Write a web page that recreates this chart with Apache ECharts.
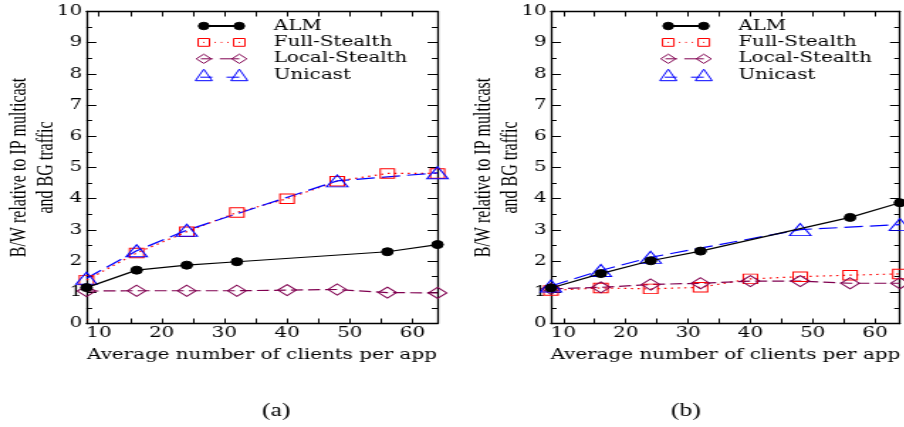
<!DOCTYPE html>
<html>
<head>
<meta charset="utf-8">
<script src="https://cdn.jsdelivr.net/npm/echarts@6/dist/echarts.min.js"></script>
<style>
html,body{margin:0;padding:0;background:#fff;overflow:hidden;}
#wrap{width:904px;height:427px;overflow:hidden;position:relative;}
#chart{width:636.6px;height:427px;transform:scaleX(1.42);transform-origin:0 0;}
</style>
</head>
<body>
<div id="wrap"><div id="chart"></div></div>
<script>
// ---- data ----
const seriesNames = ['ALM', 'Full-Stealth', 'Local-Stealth', 'Unicast'];
const xTickLabels = [10, 20, 30, 40, 50, 60];
const xTickMarks = [10, 15, 20, 25, 30, 35, 40, 45, 50, 55, 60];
const yTickLabels = [0, 1, 2, 3, 4, 5, 6, 7, 8, 9, 10];

// panel (a)
const almX_a   = [8, 16, 24, 32, 56, 64];
const almY_a   = [1.15, 1.71, 1.87, 1.98, 2.30, 2.53];
const fullX_a  = [8, 16, 24, 32, 40, 48, 56, 64];
const fullY_a  = [1.39, 2.26, 2.94, 3.56, 4.00, 4.56, 4.81, 4.81];
const localX_a = [8, 16, 24, 32, 40, 48, 56, 64];
const localY_a = [1.04, 1.05, 1.05, 1.05, 1.07, 1.09, 0.99, 0.98];
const uniX_a   = [8, 16, 24, 48, 64];
const uniY_a   = [1.45, 2.33, 2.99, 4.57, 4.83];

// panel (b)
const almX_b   = [8, 16, 24, 32, 56, 64];
const almY_b   = [1.14, 1.60, 2.01, 2.32, 3.40, 3.87];
const fullX_b  = [8, 16, 24, 32, 40, 48, 56, 64];
const fullY_b  = [1.06, 1.14, 1.11, 1.16, 1.43, 1.50, 1.55, 1.59];
const localX_b = [8, 16, 24, 32, 40, 48, 56, 64];
const localY_b = [1.11, 1.16, 1.25, 1.29, 1.36, 1.36, 1.29, 1.29];
const uniX_b   = [8, 16, 24, 48, 64];
const uniY_b   = [1.20, 1.70, 2.12, 3.01, 3.17];

const yLabelLine1 = 'B/W relative to IP multicast';
const yLabelLine2 = 'and BG traffic';
const xLabel = 'Average number of clients per app';
const captions = ['(a)', '(b)'];

// ---- helpers ----
function pairs(xs, ys) { return xs.map((x, i) => [x, ys[i]]); }

const GRID_W = 247.2, GRID_H = 312, GRID_TOP = 11.5;
const gridLefts = [60.9, 388.0];
const tickFont = { fontFamily: 'DejaVu Serif', fontSize: 14, color: '#000' };
const black = '#000';

// legend icons (gnuplot-like: marker - line - marker); frame 42 x 12, anchored corners
const ANCHOR = 'M-21,-6 M21,6 ';
function circ(cx, r) { return 'M' + (cx - r) + ',0 A' + r + ',' + r + ' 0 1,0 ' + (cx + r) + ',0 A' + r + ',' + r + ' 0 1,0 ' + (cx - r) + ',0 Z '; }
function seg(a, b, y) { return 'M' + a + ',' + y + ' L' + b + ',' + y + ' '; }
const legendIcons = {
  'ALM': 'path://' + ANCHOR + circ(-12.5, 3.7) + circ(12.5, 3.7) + 'M-9,-0.5 L9,-0.5 L9,0.5 L-9,0.5 Z',
  'Full-Stealth': 'path://' + ANCHOR +
    'M-16.5,-3.9 L-8.5,-3.9 L-8.5,3.9 L-16.5,3.9 Z M8.5,-3.9 L16.5,-3.9 L16.5,3.9 L8.5,3.9 Z ' +
    seg(-13, -12, 0) + seg(12, 13, 0) + seg(-5, -4, 0) + seg(-0.5, 0.5, 0) + seg(4, 5, 0),
  'Local-Stealth': 'path://' + ANCHOR +
    'M-17.8,0 L-12.5,-4.6 L-7.2,0 L-12.5,4.6 Z M7.2,0 L12.5,-4.6 L17.8,0 L12.5,4.6 Z ' +
    seg(-14.5, -6.2, 0) + seg(-1.2, 12.5, 0),
  'Unicast': 'path://' + ANCHOR +
    'M-18.4,5.5 L-12.5,-6 L-6.6,5.5 Z M6.6,5.5 L12.5,-6 L18.4,5.5 Z ' +
    seg(-15, -6.5, 2) + seg(3.5, 12.5, 2)
};

const styles = {
  'ALM': { symbol: 'circle', symbolSize: 8, color: '#000', type: 'solid', fill: '#000' },
  'Full-Stealth': { symbol: 'rect', symbolSize: [10, 9.5], color: '#ff0000', type: [1.5, 3.2], fill: 'rgba(0,0,0,0)' },
  'Local-Stealth': { symbol: 'diamond', symbolSize: [13, 11], color: '#800050', type: [8.5, 3.5], fill: 'rgba(0,0,0,0)' },
  'Unicast': { symbol: 'triangle', symbolSize: [15, 12], color: '#0000ff', type: [13, 5], fill: 'rgba(0,0,0,0)' }
};

const panels = [
  { 'ALM': pairs(almX_a, almY_a), 'Full-Stealth': pairs(fullX_a, fullY_a), 'Local-Stealth': pairs(localX_a, localY_a), 'Unicast': pairs(uniX_a, uniY_a) },
  { 'ALM': pairs(almX_b, almY_b), 'Full-Stealth': pairs(fullX_b, fullY_b), 'Local-Stealth': pairs(localX_b, localY_b), 'Unicast': pairs(uniX_b, uniY_b) }
];

const grid = [], xAxis = [], yAxis = [], series = [], legend = [], graphic = [];

panels.forEach((p, gi) => {
  const left = gridLefts[gi];
  grid.push({ left: left, top: GRID_TOP, width: GRID_W, height: GRID_H, containLabel: false });
  const xBase = {
    type: 'value', gridIndex: gi, min: 8, max: 64,
    axisLine: { show: true, onZero: false, lineStyle: { color: black, width: 1.3 } },
    axisTick: { show: true, inside: true, length: 5, customValues: xTickMarks, lineStyle: { color: black, width: 1 } },
    splitLine: { show: false }
  };
  xAxis.push(Object.assign({}, xBase, {
    position: 'bottom',
    axisLabel: { show: true, margin: 3, customValues: xTickLabels, ...tickFont },
    name: xLabel, nameLocation: 'middle', nameGap: 25,
    nameTextStyle: { fontFamily: 'DejaVu Serif', fontSize: 14, color: '#000' }
  }));
  xAxis.push(Object.assign({}, xBase, { position: 'top', axisLabel: { show: false } }));
  const yBase = {
    type: 'value', gridIndex: gi, min: 0, max: 10, interval: 1,
    axisLine: { show: true, onZero: false, lineStyle: { color: black, width: 1.3 } },
    axisTick: { show: true, inside: true, length: 7, lineStyle: { color: black, width: 1 } },
    minorTick: { show: true, splitNumber: 2, length: 4, lineStyle: { color: black, width: 1 } },
    splitLine: { show: false }, minorSplitLine: { show: false }
  };
  yAxis.push(Object.assign({}, yBase, {
    position: 'left',
    axisLabel: { show: true, margin: 3, customValues: yTickLabels, ...tickFont }
  }));
  yAxis.push(Object.assign({}, yBase, { position: 'right', axisLabel: { show: false } }));

  seriesNames.forEach(name => {
    const s = styles[name];
    series.push({
      name: name, type: 'line', xAxisIndex: gi * 2, yAxisIndex: gi * 2,
      data: p[name], symbol: s.symbol, symbolSize: s.symbolSize, showSymbol: true,
      clip: false,
      lineStyle: { color: s.color, width: 1.2, type: s.type },
      itemStyle: { color: s.fill, borderColor: s.color, borderWidth: 1 },
      emphasis: { disabled: true }, z: name === 'ALM' ? 3 : 2
    });
  });

  legend.push({
    orient: 'vertical', left: left + 73.6, top: 19, padding: 0,
    itemWidth: 42, itemHeight: 12, itemGap: 2.4, symbolKeepAspect: true,
    data: seriesNames.map(name => ({
      name: name, icon: legendIcons[name],
      itemStyle: { color: styles[name].fill, borderColor: styles[name].color, borderWidth: 1, borderType: 'solid', opacity: 1 }
    })),
    selectedMode: false,
    textStyle: { fontFamily: 'DejaVu Serif', fontSize: 14, color: '#000', padding: [0, 0, 0, 10.8] }
  });

  const offs = left - gridLefts[0];
  graphic.push({
    type: 'text', x: 13.3 + offs, y: GRID_TOP + GRID_H / 2, rotation: Math.PI / 2,
    style: { text: yLabelLine1, fontFamily: 'Liberation Serif', fontSize: 16, fill: '#000', align: 'center', verticalAlign: 'middle' }
  });
  graphic.push({
    type: 'text', x: 33.0 + offs, y: GRID_TOP + GRID_H / 2, rotation: Math.PI / 2,
    style: { text: yLabelLine2, fontFamily: 'Liberation Serif', fontSize: 16, fill: '#000', align: 'center', verticalAlign: 'middle' }
  });
  graphic.push({
    type: 'text', x: [194.4, 483.1][gi], y: 411,
    style: { text: captions[gi], fontFamily: 'Liberation Serif', fontSize: 18, fill: '#000', align: 'center', verticalAlign: 'middle' }
  });
});

const chart = echarts.init(document.getElementById('chart'), null, { renderer: 'canvas' });
chart.setOption({
  animation: false,
  backgroundColor: '#fff',
  grid: grid, xAxis: xAxis, yAxis: yAxis, series: series, legend: legend, graphic: graphic
});
</script>
</body>
</html>
